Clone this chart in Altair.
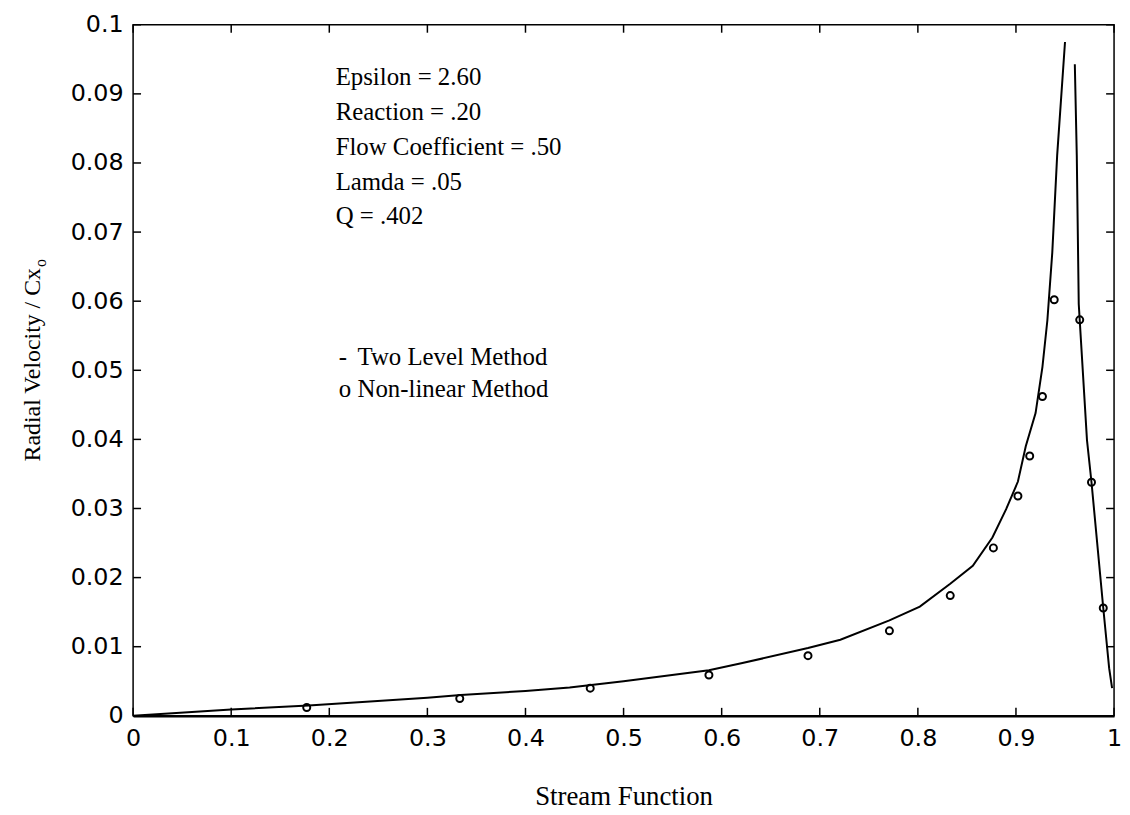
import altair as alt
import pandas as pd

# ---- data ----
# Two Level Method curve (solid line), drawn as two branches
two_level_x1 = [0.0, 0.1, 0.179, 0.3, 0.334, 0.4, 0.445, 0.5, 0.587, 0.62, 0.688, 0.721, 0.771,
                0.802, 0.833, 0.856, 0.876, 0.890, 0.902, 0.910, 0.920, 0.927, 0.932, 0.937,
                0.942, 0.950]
two_level_y1 = [0.0, 0.0009, 0.0015, 0.0026, 0.0030, 0.0036, 0.0041, 0.0050, 0.0066, 0.0076,
                0.0098, 0.0110, 0.0138, 0.0158, 0.0191, 0.0217, 0.0258, 0.0299, 0.0339, 0.0390,
                0.0438, 0.0505, 0.0572, 0.0670, 0.0811, 0.0975]
two_level_x2 = [0.960, 0.962, 0.964, 0.9724, 0.977, 0.989, 0.995, 0.998]
two_level_y2 = [0.0943, 0.0811, 0.0596, 0.0399, 0.0338, 0.0156, 0.0069, 0.0040]

# Non-linear Method (open circles)
nonlinear_x = [0.177, 0.333, 0.466, 0.587, 0.688, 0.771, 0.833, 0.877, 0.902, 0.914, 0.927,
               0.939, 0.965, 0.977, 0.989]
nonlinear_y = [0.0012, 0.0025, 0.0040, 0.0059, 0.0087, 0.0123, 0.0174, 0.0243, 0.0318, 0.0376,
               0.0462, 0.0602, 0.0573, 0.0338, 0.0156]

x_ticks = [0.0, 0.1, 0.2, 0.3, 0.4, 0.5, 0.6, 0.7, 0.8, 0.9, 1.0]
y_ticks = [0.0, 0.01, 0.02, 0.03, 0.04, 0.05, 0.06, 0.07, 0.08, 0.09, 0.1]

params_text = ["Epsilon = 2.60", "Reaction = .20", "Flow Coefficient = .50", "Lamda = .05", "Q = .402"]
legend_symbols = ["-", "o"]
legend_labels = ["Two Level Method", "Non-linear Method"]
x_title = "Stream Function"
y_title = "Radial Velocity / Cx"
y_title_sub = "o"

# ---- build tables ----
line_df = pd.DataFrame({
    "x": two_level_x1 + two_level_x2,
    "y": two_level_y1 + two_level_y2,
    "seg": ["a"] * len(two_level_x1) + ["b"] * len(two_level_x2),
    "order": list(range(len(two_level_x1))) + list(range(len(two_level_x2))),
})
pts_df = pd.DataFrame({"x": nonlinear_x, "y": nonlinear_y})
xt_df = pd.DataFrame({"x": x_ticks})
yt_df = pd.DataFrame({"y": y_ticks})
one = pd.DataFrame({"k": [0]})

W, H = 988, 696
TICK = 8
SERIF = "Liberation Serif"
SANS = "DejaVu Sans"

xscale = alt.Scale(domain=[0, 1], nice=False, zero=False)
yscale = alt.Scale(domain=[0, 0.1], nice=False, zero=False)

x_axis = alt.Axis(values=x_ticks, format="~g", ticks=False, grid=False,
                  domain=True, domainColor="black", domainWidth=2.5,
                  labelFont=SANS, labelFontSize=24, labelColor="black", labelPadding=11,
                  labelFlush=False, labelOverlap=False,
                  title=x_title, titleFont=SERIF, titleFontSize=27, titleFontWeight="normal",
                  titleColor="black", titleY=89, titleBaseline="alphabetic")
y_axis = alt.Axis(values=y_ticks, format="~g", ticks=False, grid=False,
                  domain=False, labelFont=SANS, labelFontSize=24, labelColor="black",
                  labelPadding=10, labelFlush=False, labelOverlap=False, title="")

X = lambda f: alt.X(f"{f}:Q", scale=xscale, axis=x_axis, title=x_title)
Y = lambda f: alt.Y(f"{f}:Q", scale=yscale, axis=y_axis, title="")

line = alt.Chart(line_df).mark_line(color="black", strokeWidth=2).encode(
    x=X("x"), y=Y("y"), detail="seg:N", order="order:Q",
)

points = alt.Chart(pts_df).mark_point(shape="circle", filled=False, color="black",
                                      strokeWidth=2, size=50, opacity=1).encode(
    x=X("x"), y=Y("y"),
)

tick_style = dict(color="black", strokeWidth=1.5)
bottom_ticks = alt.Chart(xt_df).mark_rule(**tick_style).encode(
    x=X("x"), y=alt.value(H), y2=alt.value(H - TICK))
top_ticks = alt.Chart(xt_df).mark_rule(**tick_style).encode(
    x=X("x"), y=alt.value(0), y2=alt.value(TICK))
left_ticks = alt.Chart(yt_df).mark_rule(**tick_style).encode(
    y=Y("y"), x=alt.value(0), x2=alt.value(TICK))
right_ticks = alt.Chart(yt_df).mark_rule(**tick_style).encode(
    y=Y("y"), x=alt.value(W), x2=alt.value(W - TICK))

params = alt.Chart(one).mark_text(
    align="left", baseline="alphabetic", font=SERIF, fontSize=25, lineHeight=35, color="black"
).encode(x=alt.value(204), y=alt.value(61), text=alt.value(params_text))

leg_sym = alt.Chart(one).mark_text(
    align="left", baseline="alphabetic", font=SERIF, fontSize=25, lineHeight=32, color="black"
).encode(x=alt.value(207), y=alt.value(343), text=alt.value(legend_symbols))
leg_txt = alt.Chart(one).mark_text(
    align="left", baseline="alphabetic", font=SERIF, fontSize=25, lineHeight=32, color="black"
).encode(x=alt.value(226), y=alt.value(343), text=alt.value(legend_labels))

ytitle = alt.Chart(one).mark_text(
    align="right", baseline="alphabetic", angle=270, font=SERIF, fontSize=24, color="black"
).encode(x=alt.value(-94), y=alt.value(245), text=alt.value(y_title))
ytitle_sub = alt.Chart(one).mark_text(
    align="left", baseline="alphabetic", angle=270, font=SERIF, fontSize=16, color="black"
).encode(x=alt.value(-88), y=alt.value(244), text=alt.value(y_title_sub))

chart = alt.layer(
    line, points, bottom_ticks, top_ticks, left_ticks, right_ticks,
    params, leg_sym, leg_txt, ytitle, ytitle_sub
).properties(
    width=W, height=H,
    autosize=alt.AutoSizeParams(type="none"),
    padding={"left": 126, "top": 14, "right": 8, "bottom": 95},
    background="white",
).configure_view(stroke="black", strokeWidth=1.5)

chart.save("out.html", embed_options={"renderer": "svg", "actions": False})
